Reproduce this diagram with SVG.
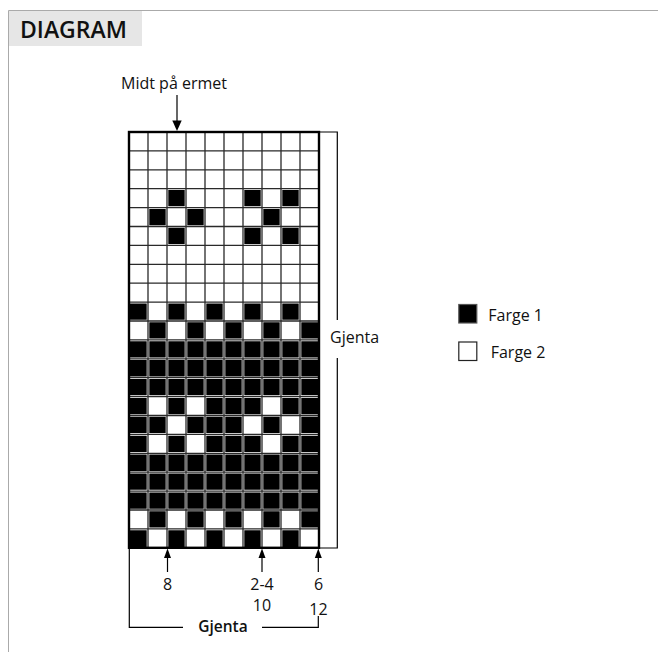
<svg xmlns="http://www.w3.org/2000/svg" xmlns:xlink="http://www.w3.org/1999/xlink" width="658" height="652" viewBox="0 0 658 652">
<style>
.t{font-family:"Open Sans","Noto Sans",sans-serif;font-size:16px;fill:#111}
.tb{font-family:"Open Sans","Noto Sans",sans-serif;font-size:15.5px;font-weight:600;fill:#111}
.ln{fill:none;stroke:#000;stroke-width:1.2}
.b{fill:#000}
.w{fill:#fff}
.gw{stroke:#fff;stroke-width:2.6;fill:none}
.gd{stroke:#2a2a2a;stroke-width:1.3;fill:none}
</style>
<defs>
<rect id="cb" width="19" height="18.9" class="b"/>
<rect id="cw" width="19" height="18.9" class="w"/>
<path id="grid" d="M148 132V547.8M167 132V547.8M186 132V547.8M205 132V547.8M224 132V547.8M243 132V547.8M262 132V547.8M281 132V547.8M300 132V547.8M129 150.9H319M129 169.8H319M129 188.7H319M129 207.6H319M129 226.5H319M129 245.4H319M129 264.3H319M129 283.2H319M129 302.1H319M129 321H319M129 339.9H319M129 358.8H319M129 377.7H319M129 396.6H319M129 415.5H319M129 434.4H319M129 453.3H319M129 472.2H319M129 491.1H319M129 510H319M129 528.9H319"/>
</defs>
<rect width="658" height="652" fill="#fff"/>
<g id="frame">
<path d="M8.5 652 V10.5 H658" fill="none" stroke="#aaa" stroke-width="1"/>
<rect x="9" y="11" width="133" height="35" fill="#e6e6e6"/>
<text x="20" y="37.5" font-family="'Open Sans','Noto Sans',sans-serif" font-size="23" font-weight="600" fill="#111">DIAGRAM</text>
</g>
<g id="chart">
<rect x="129" y="132" width="190" height="415.8" fill="#fff"/>
<use xlink:href="#cb" x="167" y="188.7"/><use xlink:href="#cb" x="243" y="188.7"/><use xlink:href="#cb" x="281" y="188.7"/>
<use xlink:href="#cb" x="148" y="207.6"/><use xlink:href="#cb" x="186" y="207.6"/><use xlink:href="#cb" x="262" y="207.6"/>
<use xlink:href="#cb" x="167" y="226.5"/><use xlink:href="#cb" x="243" y="226.5"/><use xlink:href="#cb" x="281" y="226.5"/>
<use xlink:href="#cb" x="129" y="302.1"/><use xlink:href="#cb" x="167" y="302.1"/><use xlink:href="#cb" x="205" y="302.1"/><use xlink:href="#cb" x="243" y="302.1"/><use xlink:href="#cb" x="281" y="302.1"/>
<use xlink:href="#cb" x="148" y="321"/><use xlink:href="#cb" x="186" y="321"/><use xlink:href="#cb" x="224" y="321"/><use xlink:href="#cb" x="262" y="321"/><use xlink:href="#cb" x="300" y="321"/>
<rect x="129" y="339.9" width="190" height="207.9" class="b"/>
<use xlink:href="#cw" x="148" y="396.6"/><use xlink:href="#cw" x="186" y="396.6"/><use xlink:href="#cw" x="262" y="396.6"/>
<use xlink:href="#cw" x="167" y="415.5"/><use xlink:href="#cw" x="243" y="415.5"/><use xlink:href="#cw" x="281" y="415.5"/>
<use xlink:href="#cw" x="148" y="434.4"/><use xlink:href="#cw" x="186" y="434.4"/><use xlink:href="#cw" x="262" y="434.4"/>
<use xlink:href="#cw" x="129" y="510"/><use xlink:href="#cw" x="167" y="510"/><use xlink:href="#cw" x="205" y="510"/><use xlink:href="#cw" x="243" y="510"/><use xlink:href="#cw" x="281" y="510"/>
<use xlink:href="#cw" x="148" y="528.9"/><use xlink:href="#cw" x="186" y="528.9"/><use xlink:href="#cw" x="224" y="528.9"/><use xlink:href="#cw" x="262" y="528.9"/><use xlink:href="#cw" x="300" y="528.9"/>
<use xlink:href="#grid" class="gw"/>
<use xlink:href="#grid" class="gd"/>
<rect x="129" y="132" width="190" height="415.8" fill="none" stroke="#000" stroke-width="2.4"/>
</g>
<g id="connectors">
<path class="ln" d="M319 132H337.3V320M337.3 358V548H319"/>
<path class="ln" d="M129.3 548V627.3H183M262 627.3H318.3V616"/>
<path class="ln" d="M177 95V122"/>
<polygon points="177,131 172.3,120.5 181.7,120.5" fill="#000"/>
<path class="ln" d="M167.5 572V556"/>
<polygon points="167.5,548.5 164,558 171,558" fill="#000"/>
<path class="ln" d="M262 572V556"/>
<polygon points="262,548.5 258.5,558 265.5,558" fill="#000"/>
<path class="ln" d="M318.3 572V556"/>
<polygon points="318.3,548.5 314.8,558 321.8,558" fill="#000"/>
</g>
<g id="labels">
<text class="t" x="174" y="89" text-anchor="middle">Midt på ermet</text>
<text class="t" x="330" y="343">Gjenta</text>
<text class="tb" x="223" y="632" text-anchor="middle">Gjenta</text>
<text class="t" x="167.5" y="590" text-anchor="middle">8</text>
<text class="t" x="262" y="590" text-anchor="middle">2-4</text>
<text class="t" x="262" y="610.5" text-anchor="middle">10</text>
<text class="t" x="318.5" y="590" text-anchor="middle">6</text>
<text class="t" x="318.5" y="614.5" text-anchor="middle">12</text>
</g>
<g id="legend1">
<rect x="458.8" y="304.5" width="18" height="18.5" fill="#000" stroke="#555" stroke-width="1.2"/>
<text class="t" x="488.3" y="321">Farge 1</text>
</g>
<g id="legend2">
<rect x="458.8" y="342" width="18" height="18.5" fill="#fff" stroke="#222" stroke-width="1.2"/>
<text class="t" x="490.7" y="357.7">Farge 2</text>
</g>
</svg>
